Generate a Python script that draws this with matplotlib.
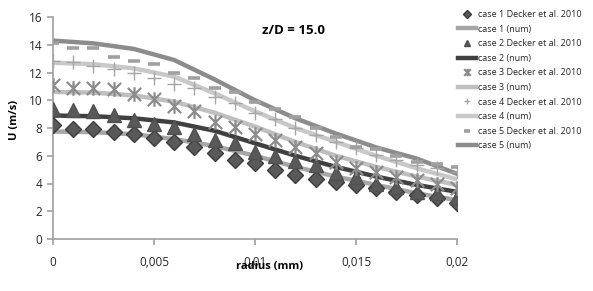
import matplotlib
matplotlib.use('Agg')
import matplotlib.pyplot as plt
from matplotlib.path import Path
from matplotlib.ticker import FuncFormatter

# Data
r_exp = [0.000, 0.001, 0.002, 0.003, 0.004, 0.005, 0.006, 0.007, 0.008, 0.009, 0.010,
         0.011, 0.012, 0.013, 0.014, 0.015, 0.016, 0.017, 0.018, 0.019, 0.020]
case1_exp = [8.2, 7.95, 7.95, 7.7, 7.6, 7.25, 7.0, 6.65, 6.2, 5.7, 5.45,
             4.95, 4.6, 4.35, 4.1, 3.9, 3.7, 3.4, 3.15, 2.95, 2.6]
case2_exp = [9.4, 9.3, 9.2, 8.95, 8.6, 8.3, 8.1, 7.6, 7.15, 6.9, 6.3,
             5.95, 5.6, 5.3, 4.75, 4.5, 4.0, 3.75, 3.4, 3.3, 3.05]
case3_exp = [11.1, 10.85, 10.85, 10.8, 10.45, 10.1, 9.6, 9.2, 8.45, 8.1, 7.55,
             7.1, 6.6, 6.2, 5.55, 5.15, 4.8, 4.5, 4.25, 4.0, 3.7]
case4_exp = [12.8, 12.75, 12.5, 12.25, 12.0, 11.6, 11.2, 10.9, 10.2, 9.8, 9.1,
             8.65, 8.0, 7.5, 7.0, 6.55, 6.05, 5.7, 5.3, 5.1, 4.8]
case5_exp = [14.1, 13.8, 13.75, 13.1, 12.8, 12.6, 12.0, 11.6, 10.9, 10.6, 9.9,
             9.4, 8.8, 8.0, 7.35, 6.6, 6.5, 6.0, 5.55, 5.4, 5.2]

r_num = [0.000, 0.002, 0.004, 0.006, 0.008, 0.010, 0.012, 0.014, 0.016, 0.018, 0.020]
case1_num = [7.75, 7.7, 7.55, 7.2, 6.7, 6.0, 5.2, 4.5, 3.9, 3.3, 2.8]
case2_num = [8.9, 8.85, 8.7, 8.4, 7.8, 6.9, 6.0, 5.2, 4.5, 3.9, 3.4]
case3_num = [10.6, 10.55, 10.35, 9.9, 9.1, 8.1, 7.0, 6.0, 5.2, 4.5, 3.9]
case4_num = [12.7, 12.6, 12.3, 11.7, 10.5, 9.2, 8.0, 7.0, 6.0, 5.1, 4.3]
case5_num = [14.3, 14.1, 13.7, 12.9, 11.5, 10.0, 8.7, 7.6, 6.6, 5.8, 4.7]

plt.rcParams['font.family'] = ['Open Sans', 'DejaVu Sans']

# Excel-like "star" marker: an X with a vertical bar
star = Path([(-1, -1), (1, 1), (-1, 1), (1, -1), (0, -1.1), (0, 1.1)],
            [Path.MOVETO, Path.LINETO, Path.MOVETO, Path.LINETO, Path.MOVETO, Path.LINETO])

fig = plt.figure(figsize=(5.93, 2.91), dpi=100)
ax = fig.add_axes([53/593, 1-239/291, 404/593, 222/291])

ax.plot(r_exp, case1_exp, 'D', color='#595959', mec='#3c3c3c', ms=8, ls='none',
        label='case 1 Decker et al. 2010', zorder=4)
ax.plot(r_num, case1_num, '-', color='#a6a6a6', lw=3.2, label='case 1 (num)', zorder=2)
ax.plot(r_exp, case2_exp, '^', color='#595959', mec='#505050', ms=9.5, ls='none',
        label='case 2 Decker et al. 2010', zorder=4)
ax.plot(r_num, case2_num, '-', color='#404040', lw=3.2, label='case 2 (num)', zorder=2)
ax.plot(r_exp, case3_exp, marker=star, color='#8c8c8c', ms=10.5, mew=1.6, ls='none',
        label='case 3 Decker et al. 2010', zorder=4)
ax.plot(r_num, case3_num, '-', color='#bfbfbf', lw=3.2, label='case 3 (num)', zorder=2)
ax.plot(r_exp, case4_exp, '+', color='#a6a6a6', ms=10, mew=1.0, ls='none',
        label='case 4 Decker et al. 2010', zorder=4)
ax.plot(r_num, case4_num, '-', color='#c8c8c8', lw=3.2, label='case 4 (num)', zorder=2)
ax.plot(r_exp, case5_exp, '_', color='#a0a0a0', ms=9, mew=2.6, ls='none',
        label='case 5 Decker et al. 2010', zorder=4)
ax.plot(r_num, case5_num, '-', color='#8c8c8c', lw=3.2, label='case 5 (num)', zorder=2)

ax.set_xlim(0, 0.02)
ax.set_ylim(0, 16)
ax.set_xticks([0, 0.005, 0.01, 0.015, 0.02])
ax.set_yticks(range(0, 17, 2))
ax.xaxis.set_major_formatter(FuncFormatter(lambda v, p: '0' if v == 0 else ('%g' % v).replace('.', ',')))

for s in ['top', 'right']:
    ax.spines[s].set_visible(False)
for s in ['left', 'bottom']:
    ax.spines[s].set_color('#a0a0a0')
    ax.spines[s].set_linewidth(1.2)
ax.tick_params(colors='#a0a0a0', labelcolor='#262626', labelsize=8.5, length=4, width=1.2)
ax.tick_params(axis='x', pad=8)

fig.text(293/593, 1-30/291, 'z/D = 15.0', ha='center', va='center', fontsize=9.5, fontweight='bold')
fig.text(270/593, 1-267/291, 'radius (mm)', ha='center', va='center', fontsize=8, fontweight='bold')
fig.text(15/593, 1-120/291, 'U (m/s)', ha='center', va='center', fontsize=8,
         fontweight='bold', rotation=90)

ax.legend(loc='upper left', bbox_to_anchor=(458/593, 1-10/291), bbox_transform=fig.transFigure,
          frameon=False, fontsize=6.5, handlelength=2.0, handletextpad=0.2, labelspacing=0.62,
          markerscale=0.5, borderaxespad=0, borderpad=0, labelcolor='#262626')

fig.savefig('out.png', dpi=100)
